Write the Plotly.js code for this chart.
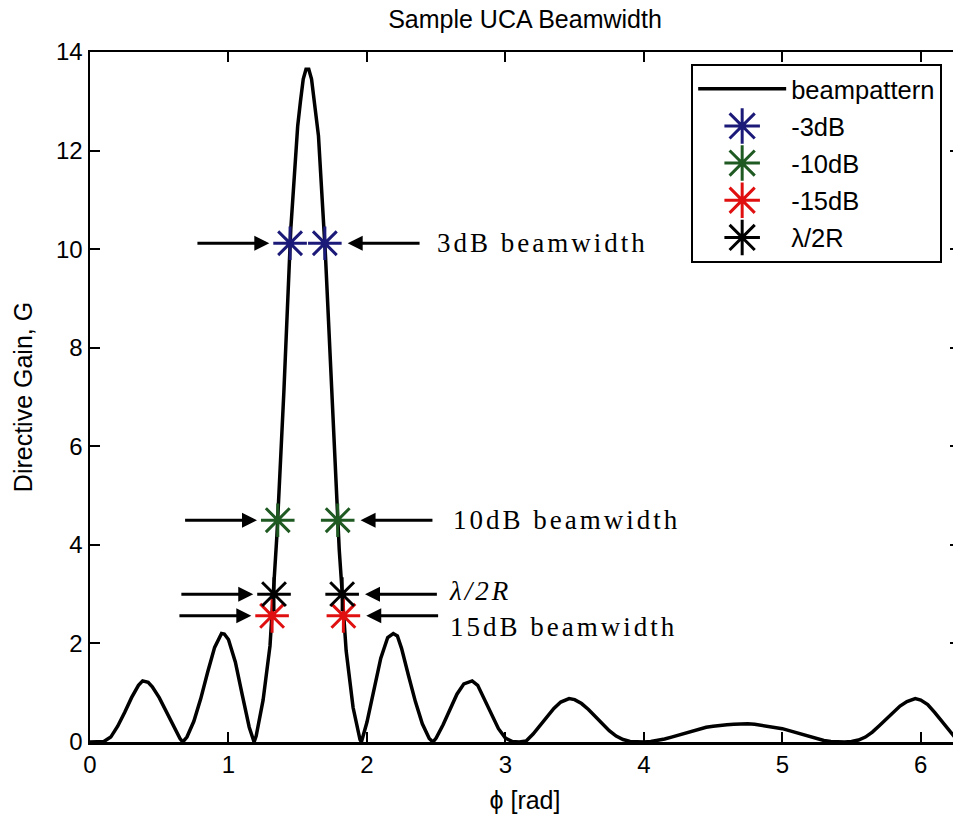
<!DOCTYPE html>
<html>
<head>
<meta charset="utf-8">
<script src="https://cdn.plot.ly/plotly-3.0.1.min.js"></script>
<style>
  html, body { margin: 0; padding: 0; overflow: hidden; background: #fff; }
  #chart { width: 962px; height: 824px; }
  .annotation-text { letter-spacing: 3px; }
</style>
</head>
<body>
<div id="chart"></div>
<script>
// Directive gain of the uniform circular array versus azimuth (rad)
const phi = [
  0.00, 0.05, 0.10, 0.15, 0.20, 0.25, 0.30, 0.35, 0.38, 0.42, 0.45, 0.50, 0.55, 0.60, 0.65, 0.67,
  0.70, 0.75, 0.80, 0.85, 0.90, 0.95, 0.97, 1.00, 1.05, 1.10, 1.15, 1.185,
  1.20, 1.25, 1.30, 1.35, 1.40, 1.45, 1.50, 1.52, 1.54, 1.56, 1.58, 1.60, 1.62, 1.65,
  1.70, 1.75, 1.80, 1.85, 1.90, 1.95, 1.96,
  2.00, 2.05, 2.10, 2.15, 2.19, 2.22, 2.25, 2.30, 2.35, 2.40, 2.45, 2.477,
  2.50, 2.55, 2.60, 2.65, 2.70, 2.76, 2.80, 2.85, 2.90, 2.95, 3.00, 3.05, 3.10,
  3.15, 3.20, 3.25, 3.30, 3.35, 3.40, 3.46, 3.50, 3.55, 3.60, 3.65, 3.70, 3.75, 3.80, 3.85, 3.90,
  3.95, 4.00, 4.05, 4.10, 4.15, 4.20, 4.25, 4.30, 4.35, 4.40, 4.45, 4.50, 4.55, 4.60, 4.65, 4.71,
  4.75, 4.80, 4.85, 4.90, 4.95, 5.00, 5.05, 5.10, 5.15, 5.20, 5.25, 5.30, 5.35, 5.40, 5.45,
  5.50, 5.55, 5.60, 5.65, 5.70, 5.75, 5.80, 5.85, 5.90, 5.96, 6.00, 6.05, 6.10, 6.15, 6.20, 6.25, 6.2832
];
const gain = [
  0.00, 0.00, 0.01, 0.10, 0.32, 0.60, 0.90, 1.15, 1.24, 1.21, 1.12, 0.90, 0.62, 0.32, 0.07, 0.00,
  0.10, 0.42, 0.88, 1.42, 1.92, 2.20, 2.19, 2.08, 1.62, 0.95, 0.30, 0.00,
  0.12, 0.85, 1.95, 4.20, 7.10, 10.40, 12.50, 13.00, 13.45, 13.65, 13.65, 13.45, 13.00, 12.30,
  9.90, 6.70, 3.90, 1.85, 0.70, 0.05, 0.00,
  0.40, 1.05, 1.70, 2.12, 2.20, 2.15, 1.90, 1.35, 0.82, 0.37, 0.07, 0.00,
  0.08, 0.35, 0.67, 0.97, 1.18, 1.24, 1.15, 0.85, 0.55, 0.27, 0.08, 0.01, 0.00,
  0.02, 0.16, 0.34, 0.52, 0.68, 0.81, 0.88, 0.86, 0.78, 0.66, 0.52, 0.37, 0.23, 0.12, 0.05, 0.01,
  0.00, 0.00, 0.01, 0.03, 0.06, 0.10, 0.14, 0.19, 0.23, 0.27, 0.30, 0.32, 0.34, 0.35, 0.36, 0.37,
  0.37, 0.36, 0.34, 0.32, 0.30, 0.27, 0.23, 0.19, 0.14, 0.10, 0.06, 0.03, 0.01, 0.00, 0.00,
  0.01, 0.04, 0.10, 0.20, 0.33, 0.47, 0.61, 0.73, 0.82, 0.88, 0.85, 0.76, 0.60, 0.42, 0.24, 0.08, 0.00
];

// Beamwidth crossings on either side of the main lobe
const levelNames = ['-3dB', '-10dB', '-15dB', 'λ/2R'];
const phiLeft    = [1.445, 1.356, 1.315, 1.329];
const phiRight   = [1.696, 1.789, 1.830, 1.821];
const levelGain  = [10.12, 4.50, 2.56, 3.00];

// Callout labels written to the right of each pair of arrows
const calloutText = ['3dB beamwidth', '10dB beamwidth', '15dB beamwidth', '<i>λ/2R</i>'];

// Styling
const levelColors = ['#1c1a78', '#1f5a22', '#e01010', '#000000'];
const calloutDy = [0, 0, -0.23, 0.06];       // label offset from the arrow row (gain units)
const calloutDx = [0.10, 0.12, 0.06, 0.065]; // label gap after the arrow tail (rad)
const tipGapL = 0.15, tipGapR = 0.165, shaft = 0.53;

const sans = 'Liberation Sans, Arial, Helvetica, sans-serif';
const serif = 'Liberation Serif, Times New Roman, serif';

const traces = [{
  x: phi, y: gain, type: 'scatter', mode: 'lines', name: 'beampattern',
  legendgroup: 'g0',
  line: { color: '#000', width: 3.5 }
}];
levelNames.forEach((name, i) => {
  traces.push({
    x: [phiLeft[i], phiRight[i]], y: [levelGain[i], levelGain[i]],
    type: 'scatter', mode: 'markers', name: name, legendgroup: 'g' + (i + 1),
    marker: { symbol: 'asterisk-open', size: 28, color: levelColors[i],
              line: { width: 3, color: levelColors[i] } }
  });
});

const annotations = [];
levelNames.forEach((name, i) => {
  const y = levelGain[i];
  const tipL = phiLeft[i] - tipGapL, tipR = phiRight[i] + tipGapR;
  const arrow = { text: '', showarrow: true, arrowhead: 2, arrowsize: 1, arrowwidth: 3,
                  arrowcolor: '#000', standoff: 0, xref: 'x', yref: 'y', axref: 'x', ayref: 'y' };
  annotations.push(Object.assign({}, arrow, { x: tipL, y: y, ax: tipL - shaft, ay: y }));
  annotations.push(Object.assign({}, arrow, { x: tipR, y: y, ax: tipR + shaft, ay: y }));
  annotations.push({
    text: calloutText[i], showarrow: false, xref: 'x', yref: 'y',
    x: tipR + shaft + calloutDx[i], y: y + calloutDy[i],
    xanchor: 'left', yanchor: 'middle', align: 'left',
    font: { family: serif, size: 27, color: '#000' }
  });
});

const axisStyle = {
  showline: true, linecolor: '#000', linewidth: 2.5, mirror: 'ticks',
  ticks: 'inside', ticklen: 10, tickwidth: 2, tickcolor: '#000',
  showgrid: false, zeroline: false,
  tickfont: { family: sans, size: 24, color: '#000' }
};

const layout = {
  width: 962, height: 824,
  margin: { l: 90, r: 2, t: 52, b: 82 },
  paper_bgcolor: '#fff', plot_bgcolor: '#fff',
  title: { text: 'Sample UCA Beamwidth', font: { family: sans, size: 25, color: '#000' },
           x: 0.5, xref: 'paper', y: 1 - 19 / 824, yref: 'container', yanchor: 'middle' },
  xaxis: Object.assign({}, axisStyle, {
    range: [0, 2 * Math.PI], tick0: 0, dtick: 1,
    title: { text: 'ϕ [rad]', font: { family: sans, size: 25, color: '#000' }, standoff: 14 }
  }),
  yaxis: Object.assign({}, axisStyle, {
    range: [0, 14], tick0: 0, dtick: 2,
    title: { text: 'Directive Gain, G', font: { family: sans, size: 25, color: '#000' }, standoff: 16 }
  }),
  showlegend: true,
  legend: {
    x: 0.691, y: 0.983, xanchor: 'left', yanchor: 'top',
    bgcolor: '#fff', bordercolor: '#000', borderwidth: 2,
    font: { family: sans, size: 25.5, color: '#000' },
    itemwidth: 88, traceorder: 'grouped', tracegroupgap: 1
  },
  annotations: annotations
};

Plotly.newPlot('chart', traces, layout, { staticPlot: true, displayModeBar: false }).then(gd => {
  // Legend symbols are capped in size by the library; enlarge them to the plotted marker size
  gd.querySelectorAll('.legend .legendpoints path.scatterpts').forEach(p => {
    const t = p.getAttribute('transform') || '';
    p.setAttribute('transform', t + ' scale(1.85)');
    p.style.vectorEffect = 'non-scaling-stroke';
  });
});
</script>
</body>
</html>
